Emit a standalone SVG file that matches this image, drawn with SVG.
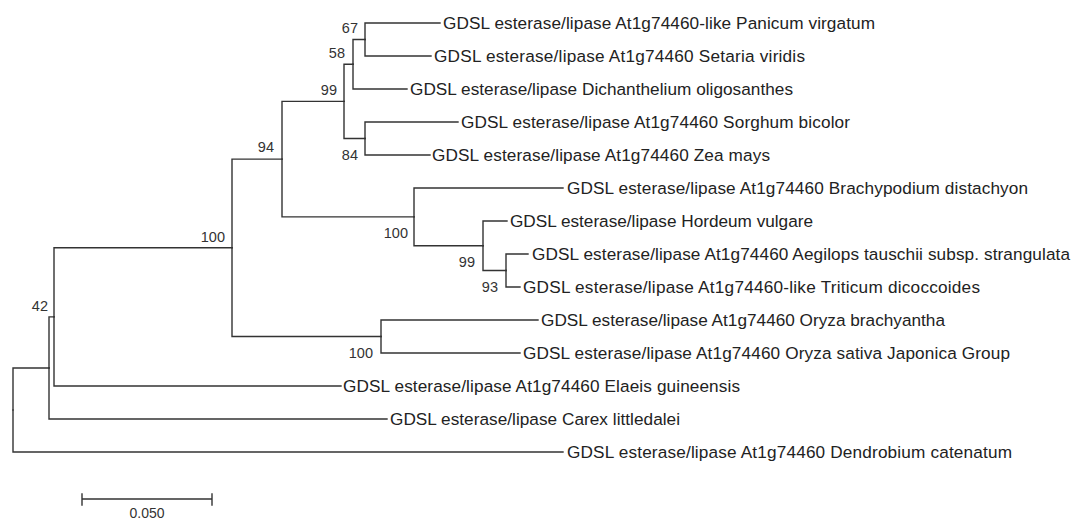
<svg xmlns="http://www.w3.org/2000/svg" width="1073" height="520" viewBox="0 0 1073 520">
<style>
.e{fill:none;stroke:#333;stroke-width:1.4;stroke-linejoin:miter;stroke-linecap:square}
.lf{font-family:"Liberation Sans",Arial,sans-serif;font-size:17.2px;fill:#222}
.bs{font-family:"Liberation Sans",Arial,sans-serif;font-size:14.5px;fill:#333;text-anchor:end}
.sc{font-family:"Liberation Sans",Arial,sans-serif;font-size:14px;fill:#333;text-anchor:middle}
</style>
<rect width="1073" height="520" fill="#fff"/>
<g id="connectors">
<path class="e" d="M13,410 V368 H49"/>
<path class="e" d="M13,410 V452 H563"/>
<path class="e" d="M49,368 V316.9 H54"/>
<path class="e" d="M49,368 V419 H387"/>
<path class="e" d="M54,316.9 V247.8 H232"/>
<path class="e" d="M54,316.9 V386 H341"/>
<path class="e" d="M232,247.8 V159.1 H282"/>
<path class="e" d="M232,247.8 V336.5 H381"/>
<path class="e" d="M282,159.1 V101.4 H344"/>
<path class="e" d="M282,159.1 V216.9 H414"/>
<path class="e" d="M344,101.4 V64.25 H353"/>
<path class="e" d="M344,101.4 V138.5 H365"/>
<path class="e" d="M353,64.25 V39.5 H365"/>
<path class="e" d="M353,64.25 V89 H407"/>
<path class="e" d="M365,39.5 V23 H440"/>
<path class="e" d="M365,39.5 V56 H431"/>
<path class="e" d="M365,138.5 V122 H458"/>
<path class="e" d="M365,138.5 V155 H430"/>
<path class="e" d="M414,216.9 V188 H563"/>
<path class="e" d="M414,216.9 V245.75 H483"/>
<path class="e" d="M483,245.75 V221 H507"/>
<path class="e" d="M483,245.75 V270.5 H506"/>
<path class="e" d="M506,270.5 V254 H528"/>
<path class="e" d="M506,270.5 V287 H520"/>
<path class="e" d="M381,336.5 V320 H538"/>
<path class="e" d="M381,336.5 V353 H520"/>
</g>
<g id="n67"><text class="bs" x="358" y="33">67</text></g>
<g id="n58"><text class="bs" x="345" y="57.5">58</text></g>
<g id="n99a"><text class="bs" x="337" y="94.5">99</text></g>
<g id="n94"><text class="bs" x="274" y="152">94</text></g>
<g id="n84"><text class="bs" x="358" y="160">84</text></g>
<g id="n100b"><text class="bs" x="408" y="238">100</text></g>
<g id="n99b"><text class="bs" x="475" y="267">99</text></g>
<g id="n93"><text class="bs" x="498" y="292">93</text></g>
<g id="n100c"><text class="bs" x="373" y="358">100</text></g>
<g id="n100a"><text class="bs" x="225" y="242">100</text></g>
<g id="n42"><text class="bs" x="48" y="311">42</text></g>
<g id="leaf-panicum"><text class="lf" x="443" y="29" textLength="432">GDSL esterase/lipase At1g74460-like Panicum virgatum</text></g>
<g id="leaf-setaria"><text class="lf" x="434" y="62" textLength="371">GDSL esterase/lipase At1g74460 Setaria viridis</text></g>
<g id="leaf-dichanthelium"><text class="lf" x="410" y="95" textLength="383">GDSL esterase/lipase Dichanthelium oligosanthes</text></g>
<g id="leaf-sorghum"><text class="lf" x="461" y="128" textLength="389">GDSL esterase/lipase At1g74460 Sorghum bicolor</text></g>
<g id="leaf-zea"><text class="lf" x="432" y="161" textLength="338">GDSL esterase/lipase At1g74460 Zea mays</text></g>
<g id="leaf-brachypodium"><text class="lf" x="567" y="194" textLength="461">GDSL esterase/lipase At1g74460 Brachypodium distachyon</text></g>
<g id="leaf-hordeum"><text class="lf" x="510" y="227" textLength="303">GDSL esterase/lipase Hordeum vulgare</text></g>
<g id="leaf-aegilops"><text class="lf" x="532" y="260" textLength="538">GDSL esterase/lipase At1g74460 Aegilops tauschii subsp. strangulata</text></g>
<g id="leaf-triticum"><text class="lf" x="523" y="293" textLength="457">GDSL esterase/lipase At1g74460-like Triticum dicoccoides</text></g>
<g id="leaf-oryza-b"><text class="lf" x="541" y="326" textLength="404">GDSL esterase/lipase At1g74460 Oryza brachyantha</text></g>
<g id="leaf-oryza-s"><text class="lf" x="523" y="359" textLength="487">GDSL esterase/lipase At1g74460 Oryza sativa Japonica Group</text></g>
<g id="leaf-elaeis"><text class="lf" x="343" y="392" textLength="397">GDSL esterase/lipase At1g74460 Elaeis guineensis</text></g>
<g id="leaf-carex"><text class="lf" x="390" y="425" textLength="290">GDSL esterase/lipase Carex littledalei</text></g>
<g id="leaf-dendrobium"><text class="lf" x="567" y="458" textLength="445">GDSL esterase/lipase At1g74460 Dendrobium catenatum</text></g>
<g id="scale">
<path class="e" d="M82,499 H212 M82,494 V505 M212,494 V505"/>
<text class="sc" x="147" y="518">0.050</text>
</g>
</svg>
